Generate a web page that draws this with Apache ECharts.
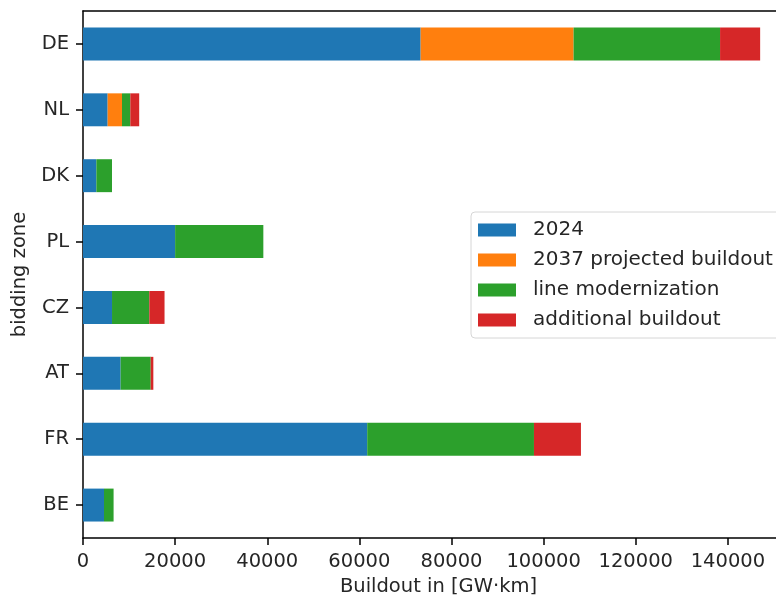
<!DOCTYPE html>
<html>
<head>
<meta charset="utf-8">
<script src="https://cdn.jsdelivr.net/npm/echarts@6/dist/echarts.min.js"></script>
<style>
  html, body { margin: 0; padding: 0; background: #fff; }
  #chart { width: 776px; height: 598px; }
</style>
</head>
<body>
<div id="chart"></div>
<script>
// Bidding zones, bottom to top
const zones = ['BE', 'FR', 'AT', 'CZ', 'PL', 'DK', 'NL', 'DE'];

// Stacked buildout components in GW·km, same order as zones
const built2024 =        [4560, 61700, 8170, 6300, 20000, 2900, 5350, 73300];
const projected2037 =    [0, 0, 0, 0, 0, 0, 3120, 33200];
const lineModernization = [2080, 36200, 6530, 8100, 19150, 3400, 1800, 31800];
const additionalBuildout = [0, 10200, 570, 3300, 0, 0, 1930, 8700];

const seriesNames = ['2024', '2037 projected buildout', 'line modernization', 'additional buildout'];
const seriesData = [built2024, projected2037, lineModernization, additionalBuildout];
const colors = ['#1f77b4', '#ff7f0e', '#2ca02c', '#d62728'];

const xTicks = [0, 20000, 40000, 60000, 80000, 100000, 120000, 140000];

const FONT = 'DejaVu Sans';
const FS = 19.5;

const chart = echarts.init(document.getElementById('chart'), null, { renderer: 'canvas' });

chart.setOption({
  animation: false,
  color: colors,
  textStyle: { fontFamily: FONT },
  grid: { left: 83, top: 11, width: 711, bottom: 60, containLabel: false, outerBoundsMode: 'none' },
  legend: {
    orient: 'vertical',
    left: 471,
    top: 212,
    data: seriesNames,
    itemWidth: 38,
    itemHeight: 13,
    itemGap: 10,
    padding: [8, 10, 8, 7],
    backgroundColor: '#ffffff',
    borderColor: '#d6d6d6',
    borderWidth: 1,
    borderRadius: 4,
    textStyle: { fontFamily: FONT, fontSize: 20, color: '#262626', padding: [0, 0, 0, 12] },
    icon: 'rect'
  },
  xAxis: [{
    type: 'value',
    min: 0,
    max: 154350,
    interval: 20000,
    name: 'Buildout in [GW·km]',
    nameLocation: 'middle',
    nameGap: 38,
    nameTextStyle: { fontFamily: FONT, fontSize: FS, color: '#262626' },
    axisLine: { show: true, lineStyle: { color: '#000', width: 1.5 } },
    axisTick: { show: true, length: 7, lineStyle: { color: '#000', width: 1.5 } },
    axisLabel: {
      show: true, margin: 14, fontFamily: FONT, fontSize: FS, color: '#262626',
      showMaxLabel: false,
      formatter: v => (xTicks.indexOf(v) >= 0 ? String(v) : '')
    },
    splitLine: { show: false }
  }, {
    type: 'value',
    position: 'top',
    min: 0,
    max: 154350,
    axisLine: { show: true, onZero: false, lineStyle: { color: '#000', width: 1.5 } },
    axisTick: { show: false },
    axisLabel: { show: false },
    splitLine: { show: false }
  }],
  yAxis: {
    type: 'category',
    data: zones,
    name: 'bidding zone',
    nameLocation: 'middle',
    nameGap: 52,
    nameTextStyle: { fontFamily: FONT, fontSize: FS, color: '#262626' },
    axisLine: { show: true, lineStyle: { color: '#000', width: 1.5 } },
    axisTick: { show: true, alignWithLabel: true, length: 7, lineStyle: { color: '#000', width: 1.5 } },
    axisLabel: { margin: 14, fontFamily: FONT, fontSize: FS, color: '#262626' },
    splitLine: { show: false }
  },
  series: seriesNames.map((name, i) => ({
    name: name,
    type: 'bar',
    stack: 'total',
    xAxisIndex: 0,
    barWidth: '50%',
    data: seriesData[i],
    itemStyle: { color: colors[i] }
  }))
});
</script>
</body>
</html>
